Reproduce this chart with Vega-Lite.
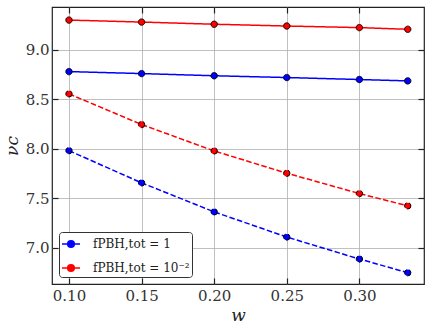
{
  "$schema": "https://vega.github.io/schema/vega-lite/v6.json",
  "width": 372,
  "height": 277,
  "autosize": {"type": "none"},
  "padding": {"left": 52, "top": 7, "right": 8, "bottom": 48},
  "background": "white",
  "config": {
    "font": "DejaVu Serif",
    "view": {"stroke": "#222222", "strokeWidth": 1.2},
    "axis": {
      "labelFont": "DejaVu Serif",
      "titleFont": "DejaVu Serif",
      "labelFontSize": 15,
      "labelColor": "#333333",
      "titleFontSize": 17,
      "titleFontWeight": "normal",
      "titleFontStyle": "italic",
      "titleColor": "#222222",
      "gridColor": "#b0b0b0",
      "gridWidth": 1,
      "gridOpacity": 0.8,
      "domain": false,
      "tickColor": "#222222",
      "tickSize": -6,
      "tickWidth": 1.2
    }
  },
  "data": {
    "values": [
      {"w": 0.10, "nu": 9.298, "f": "fPBH,tot = 10⁻²", "case": "a"},
      {"w": 0.15, "nu": 9.278, "f": "fPBH,tot = 10⁻²", "case": "a"},
      {"w": 0.20, "nu": 9.256, "f": "fPBH,tot = 10⁻²", "case": "a"},
      {"w": 0.25, "nu": 9.238, "f": "fPBH,tot = 10⁻²", "case": "a"},
      {"w": 0.30, "nu": 9.222, "f": "fPBH,tot = 10⁻²", "case": "a"},
      {"w": 0.3333, "nu": 9.205, "f": "fPBH,tot = 10⁻²", "case": "a"},
      {"w": 0.10, "nu": 8.778, "f": "fPBH,tot = 1", "case": "a"},
      {"w": 0.15, "nu": 8.758, "f": "fPBH,tot = 1", "case": "a"},
      {"w": 0.20, "nu": 8.736, "f": "fPBH,tot = 1", "case": "a"},
      {"w": 0.25, "nu": 8.718, "f": "fPBH,tot = 1", "case": "a"},
      {"w": 0.30, "nu": 8.698, "f": "fPBH,tot = 1", "case": "a"},
      {"w": 0.3333, "nu": 8.684, "f": "fPBH,tot = 1", "case": "a"},
      {"w": 0.10, "nu": 8.553, "f": "fPBH,tot = 10⁻²", "case": "b"},
      {"w": 0.15, "nu": 8.244, "f": "fPBH,tot = 10⁻²", "case": "b"},
      {"w": 0.20, "nu": 7.977, "f": "fPBH,tot = 10⁻²", "case": "b"},
      {"w": 0.25, "nu": 7.752, "f": "fPBH,tot = 10⁻²", "case": "b"},
      {"w": 0.30, "nu": 7.547, "f": "fPBH,tot = 10⁻²", "case": "b"},
      {"w": 0.3333, "nu": 7.423, "f": "fPBH,tot = 10⁻²", "case": "b"},
      {"w": 0.10, "nu": 7.980, "f": "fPBH,tot = 1", "case": "b"},
      {"w": 0.15, "nu": 7.655, "f": "fPBH,tot = 1", "case": "b"},
      {"w": 0.20, "nu": 7.362, "f": "fPBH,tot = 1", "case": "b"},
      {"w": 0.25, "nu": 7.108, "f": "fPBH,tot = 1", "case": "b"},
      {"w": 0.30, "nu": 6.886, "f": "fPBH,tot = 1", "case": "b"},
      {"w": 0.3333, "nu": 6.748, "f": "fPBH,tot = 1", "case": "b"}
    ]
  },
  "encoding": {
    "color": {
      "field": "f", "type": "nominal",
      "scale": {"domain": ["fPBH,tot = 1", "fPBH,tot = 10⁻²"], "range": ["#0000ff", "#ff0000"]},
      "legend": {
        "title": null,
        "orient": "bottom-left",
        "offset": 7,
        "labelFont": "DejaVu Serif",
        "labelFontSize": 12,
        "labelColor": "#222222",
        "symbolType": "M-1,0H1M0.37,0A0.37,0.37 0 1 0 -0.37,0A0.37,0.37 0 1 0 0.37,0Z",
        "symbolSize": 324,
        "symbolStrokeWidth": 1.5,
        "strokeColor": "#333333",
        "fillColor": "white",
        "cornerRadius": 3,
        "padding": 2,
        "rowPadding": 7,
        "labelOffset": 12,
        "encode": {
          "symbols": {"update": {
            "fill": {"scale": "color", "field": "value"},
            "stroke": {"scale": "color", "field": "value"},
            "opacity": {"value": 1}
          }}
        }
      }
    },
    "strokeDash": {
      "field": "case", "type": "nominal",
      "scale": {"domain": ["a", "b"], "range": [[1, 0], [5.5, 2.4]]},
      "legend": null
    }
  },
  "layer": [
    {
      "mark": {"type": "line", "strokeWidth": 1.5},
      "encoding": {
        "x": {
          "field": "w", "type": "quantitative",
          "scale": {"domain": [0.0883, 0.3445], "nice": false, "zero": false},
          "axis": {"title": "w", "orient": "bottom", "values": [0.10, 0.15, 0.20, 0.25, 0.30], "format": ".2f", "labelPadding": 10, "titlePadding": 4}
        },
        "y": {
          "field": "nu", "type": "quantitative",
          "scale": {"domain": [6.634, 9.43], "nice": false, "zero": false},
          "axis": {"title": "νc", "orient": "left", "values": [7.0, 7.5, 8.0, 8.5, 9.0], "format": ".1f", "labelPadding": 9, "titlePadding": 4}
        }
      }
    },
    {
      "mark": {"type": "point", "filled": true, "size": 40, "stroke": "black", "strokeWidth": 1, "opacity": 1},
      "encoding": {
        "x": {
          "field": "w", "type": "quantitative",
          "axis": {"title": null, "orient": "top", "values": [0.10, 0.15, 0.20, 0.25, 0.30], "labels": false, "grid": false}
        },
        "y": {
          "field": "nu", "type": "quantitative",
          "axis": {"title": null, "orient": "right", "values": [7.0, 7.5, 8.0, 8.5, 9.0], "labels": false, "grid": false}
        }
      }
    }
  ]
}
